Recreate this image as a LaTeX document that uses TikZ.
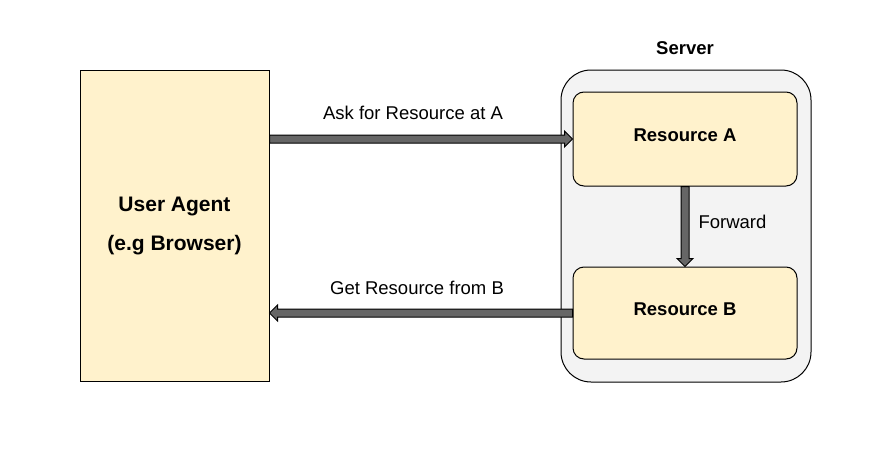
\documentclass[tikz,border=0pt]{standalone}
\usepackage{fontspec}
\setmainfont{Liberation Sans}
\usetikzlibrary{calc}
\definecolor{boxfill}{HTML}{FFF2CC}
\definecolor{serverfill}{HTML}{F3F3F3}
\definecolor{arrowgray}{HTML}{666666}
\begin{document}
\begin{tikzpicture}[x=1pt,y=1pt,
  every node/.style={font=\fontsize{18.5}{22}\selectfont},
  box/.style={draw=black, line width=1pt, fill=boxfill, inner sep=0pt},
  res/.style={box, rounded corners=11pt, minimum width=224pt, text depth=8pt,
              font=\fontsize{18.5}{22}\selectfont\bfseries},
  flow/.style={draw=black, line width=1pt, fill=arrowgray, line join=miter}]
\useasboundingbox (0,0) rectangle (891,451);

% server container
\node[draw=black, line width=1pt, fill=serverfill, rounded corners=30pt,
      minimum width=250pt, minimum height=312pt] (srv) at (686,225) {};
\node[font=\fontsize{18.5}{22}\selectfont\bfseries] (srvlabel) at (685,403) {Server};

% user agent
\node[box, minimum width=189pt, minimum height=311pt, align=center,
      font=\fontsize{21}{25}\selectfont\bfseries] (ua) at (174.5,225.5)
      {User Agent\\[14pt](e.g Browser)};

% resources
\node[res, minimum height=94pt] (ra) at (685,312) {Resource A};
\node[res, minimum height=92pt] (rb) at (685,138) {Resource B};

% request: user agent -> resource A
\draw[flow] ($(ua.east|-ra.west)+(0,4)$) -- ($(ra.west)+(-8,4)$) -- ($(ra.west)+(-8,8)$)
  -- (ra.west) -- ($(ra.west)+(-8,-8)$) -- ($(ra.west)+(-8,-4)$)
  -- ($(ua.east|-ra.west)+(0,-4)$) -- cycle;
% forward: resource A -> resource B
\draw[flow] ($(ra.south)+(-4,0)$) -- ($(rb.north)+(-4,8)$) -- ($(rb.north)+(-8,8)$)
  -- (rb.north) -- ($(rb.north)+(8,8)$) -- ($(rb.north)+(4,8)$)
  -- ($(ra.south)+(4,0)$) -- cycle;
% response: resource B -> user agent
\draw[flow] ($(rb.west)+(0,4)$) -- ($(ua.east|-rb.west)+(8,4)$) -- ($(ua.east|-rb.west)+(8,8)$)
  -- (ua.east|-rb.west) -- ($(ua.east|-rb.west)+(8,-8)$) -- ($(ua.east|-rb.west)+(8,-4)$)
  -- ($(rb.west)+(0,-4)$) -- cycle;

% labels
\node (asklabel) at (413,338) {Ask for Resource at A};
\node (getlabel) at (417,163) {Get Resource from B};
\node[anchor=west] (fwdlabel) at (695,229) {Forward};
\end{tikzpicture}
\end{document}
